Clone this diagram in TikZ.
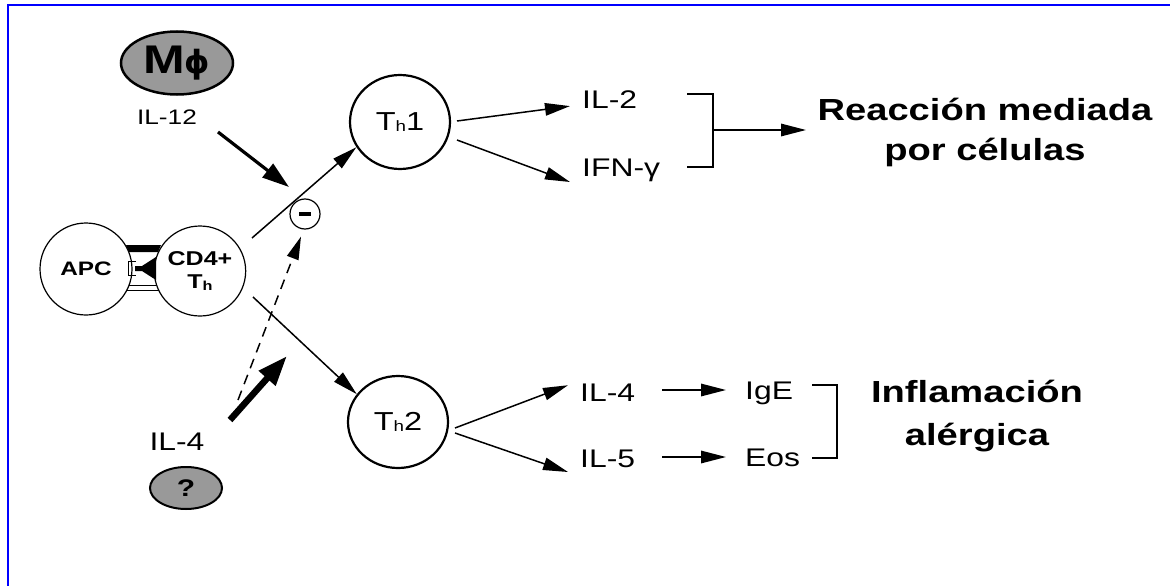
\documentclass[tikz,border=0pt]{standalone}
\usepackage{fontspec}
\setmainfont[FakeStretch=1.25]{Liberation Sans}
\newfontfamily\dejavu{DejaVu Sans}
\usetikzlibrary{arrows.meta,shapes.geometric}
\begin{document}
\begin{tikzpicture}[x=1pt,y=-1pt,
  lbl/.style={inner sep=0pt, font=\fontsize{25.5}{28}\selectfont},
  ttl/.style={inner sep=0pt, align=center, font=\fontsize{30.5}{40}\selectfont\bfseries},
  arr/.style={line width=1.5pt, -{Triangle[length=25pt,width=12.5pt]}},
  cell/.style={draw, ellipse, line width=1.2pt, inner sep=0pt},
  tcell/.style={draw, ellipse, line width=2.2pt, inner sep=0pt, minimum width=100pt, minimum height=94pt, font=\fontsize{26}{28}\selectfont},
  gcell/.style={draw, ellipse, line width=2.5pt, fill=black!40, inner sep=0pt},
  brk/.style={line width=1.4pt}]
\useasboundingbox (0,0) rectangle (1170,586);
\draw[blue, line width=2pt] (7.5,586) -- (7.5,5.5) -- (1170,5.5);

% left side
\node[gcell, minimum width=112pt, minimum height=63pt, font=\fontsize{40}{40}\selectfont\bfseries] (mphi) at (177,63) {M\hspace{-1pt}{\dejavu\fontsize{32}{32}\selectfont ϕ}};
\node[lbl, font=\fontsize{21}{24}\selectfont] (il12) at (167,117) {IL-12};
\coordinate (il12s) at (218,132);
\coordinate (il12e) at (289,187);
\draw[line width=3.2pt, -{Triangle[length=27pt,width=17pt]}] (il12s) -- (il12e);

\node[cell, minimum size=30pt] (minus) at (305,214) {};
\draw[line width=4.5pt] ([xshift=-6pt]minus.center) -- ([xshift=6pt]minus.center);

\node[cell, minimum size=92pt, font=\fontsize{19.5}{20}\selectfont\bfseries] (apc) at (86,269) {APC};
\node[cell, minimum size=90pt, align=center, font=\fontsize{20}{23}\selectfont\bfseries] (cd4) at (200,271) {CD4+\\T\raisebox{-2pt}{\fontsize{13}{13}\selectfont h}};

% synapse
\fill (126,245) -- (161,245) -- (158,252) -- (129,252) -- cycle;
\draw[line width=1pt] (136,261) -- (128,261) -- (128,275) -- (136,275);
\fill (135,266) -- (142,266) -- (156,257) -- (156,280) -- (142,271) -- (135,271) -- cycle;
\draw[line width=1pt] (129,285) -- (157,285);
\draw[line width=1pt] (127,290) -- (159,290);

\node[tcell] (th1) at (400,122) {T\raisebox{-1pt}{\fontsize{15}{15}\selectfont h}1};
\node[tcell, minimum height=92pt] (th2) at (398,422) {T\raisebox{-1pt}{\fontsize{15}{15}\selectfont h}2};

\coordinate (c1) at (252,238);
\coordinate (c2) at (253,297);
\draw[arr] (c1) -- (th1.210);
\draw[arr] (c2) -- (th2.146);

\node[lbl] (il4l) at (177,442) {IL-4};
\node[gcell, line width=2pt, minimum width=72pt, minimum height=42pt, font=\fontsize{24}{24}\selectfont\bfseries] (q) at (186,488) {?};
\coordinate (d1) at (238,400);
\draw[line width=1.5pt, dash pattern=on 10pt off 7pt, -{Triangle[length=23pt,width=12pt]}] (d1) -- ([xshift=-4pt,yshift=-7pt]minus.south);
\coordinate (t1) at (230,420);
\coordinate (t2) at (287,356);
\draw[line width=6.5pt, -{Triangle[length=30pt,width=21pt]}] (t1) -- (t2);

% Th1 branch
\node[lbl, anchor=base west] (il2) at (582,108) {IL-2};
\node[lbl, anchor=base west] (ifn) at (582,176) {IFN-γ};
\draw[arr] ([shift={(57pt,1pt)}]th1.center) -- ([shift={(-12pt,-7pt)}]il2.west);
\draw[arr] ([shift={(57pt,-18pt)}]th1.center) -- ([shift={(-12pt,-6pt)}]ifn.base west);
\draw[brk] (687,94) -- (713,94) -- (713,167) -- (687,167);
\coordinate (b1) at (713,130);
\node[ttl, anchor=base] (r1) at (985,160) {Reacción mediada\\por células};
\draw[arr] (b1) -- (806,130);

% Th2 branch
\node[lbl, anchor=base west] (il4) at (580,401) {IL-4};
\node[lbl, anchor=base west] (il5) at (580,467) {IL-5};
\draw[arr] ([shift={(57pt,-6pt)}]th2.center) -- ([shift={(-12pt,7pt)}]il4.west);
\draw[arr] ([shift={(57pt,-11pt)}]th2.center) -- ([shift={(-12pt,-5pt)}]il5.base west);
\node[lbl, anchor=base west] (ige) at (745,399) {IgE};
\node[lbl, anchor=base west] (eos) at (745,466) {Eos};
\draw[arr] (662,390) -- ([xshift=-19pt]ige.west |- 0,390);
\draw[arr] (662,457) -- ([xshift=-19pt]eos.west |- 0,457);
\draw[brk] (812,385) -- (837,385) -- (837,458) -- (812,458);
\node[ttl, anchor=base, font=\fontsize{30.5}{43}\selectfont\bfseries] (r2) at (977,445) {Inflamación\\alérgica};
\end{tikzpicture}
\end{document}
